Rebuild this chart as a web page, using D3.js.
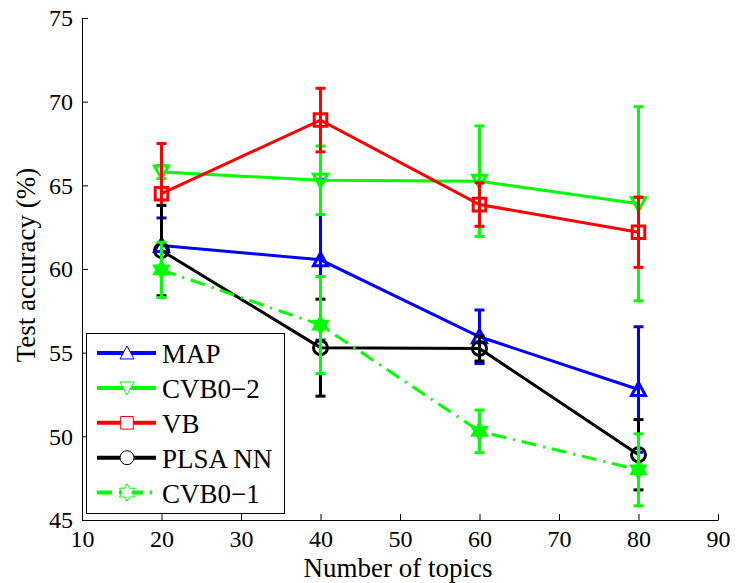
<!DOCTYPE html>
<html>
<head>
<meta charset="utf-8">
<script src="https://cdn.jsdelivr.net/npm/d3@7"></script>
<style>
  body { margin: 0; background: #fff; }
  svg text { font-family: "Liberation Serif", "Times New Roman", serif; fill: #000; }
</style>
</head>
<body>
<div id="chart"></div>
<script>
const topics = [20, 40, 60, 80];
const xTicks = [10, 20, 30, 40, 50, 60, 70, 80, 90];
const yTicks = [45, 50, 55, 60, 65, 70, 75];

const seriesNames = ["MAP", "CVB0\u22122", "VB", "PLSA NN", "CVB0\u22121"];

const mapAcc = [61.4, 60.55, 55.95, 52.8];
const mapErr = [1.65, 4.8, 1.6, 3.75];
const cvb02Acc = [65.8, 65.3, 65.25, 63.9];
const cvb02Err = [0.4, 2.05, 3.3, 5.8];
const vbAcc = [64.5, 68.9, 63.85, 62.2];
const vbErr = [3.0, 1.9, 1.3, 2.1];
const plsaAcc = [61.1, 55.3, 55.25, 48.9];
const plsaErr = [2.7, 2.9, 0.75, 2.1];
const cvb01Acc = [59.95, 56.65, 50.3, 48.0];
const cvb01Err = [1.65, 2.9, 1.27, 2.15];

const width = 736;
const height = 583;
const margin = { top: 18, right: 18, bottom: 63, left: 82 };
const serif = "'Liberation Serif', 'Times New Roman', serif";

// marker outlines, centred on 0,0
function starPath(R) {
    const r = R / Math.sqrt(3);
    let p = "";
    for (let i = 0; i < 12; i++) {
        const a = -Math.PI / 2 + i * Math.PI / 6;
        const rr = i % 2 === 0 ? R : r;
        p += (i === 0 ? "M" : "L") + (rr * Math.cos(a)).toFixed(2) + "," + (rr * Math.sin(a)).toFixed(2);
    }
    return p + "Z";
}
const markers = {
    up: s => `M0,${-s}L${s},${s * 0.85}L${-s},${s * 0.85}Z`,
    down: s => `M0,${s}L${s},${-s * 0.85}L${-s},${-s * 0.85}Z`,
    square: s => `M${-s * 0.9},${-s * 0.9}H${s * 0.9}V${s * 0.9}H${-s * 0.9}Z`,
    circle: s => `M${s},0A${s},${s} 0 1,1 ${-s},0A${s},${s} 0 1,1 ${s},0Z`,
    star: s => starPath(s * 1.25)
};

const series = [
    { name: seriesNames[0], acc: mapAcc, err: mapErr, color: "#0000ff", marker: "up", dash: null },
    { name: seriesNames[1], acc: cvb02Acc, err: cvb02Err, color: "#00ff00", marker: "down", dash: null },
    { name: seriesNames[2], acc: vbAcc, err: vbErr, color: "#ff0000", marker: "square", dash: null },
    { name: seriesNames[3], acc: plsaAcc, err: plsaErr, color: "#000000", marker: "circle", dash: null },
    { name: seriesNames[4], acc: cvb01Acc, err: cvb01Err, color: "#00ff00", marker: "star", dash: "15,7,2,7" }
];

const svg = d3.select("#chart")
    .append("svg")
    .attr("width", width)
    .attr("height", height);

svg.append("rect")
    .attr("width", width)
    .attr("height", height)
    .attr("fill", "#fff");

const xScale = d3.scaleLinear()
    .domain([10, 90])
    .range([margin.left, width - margin.right]);

const yScale = d3.scaleLinear()
    .domain([45, 75])
    .range([height - margin.bottom, margin.top]);

const xAxis = d3.axisBottom(xScale)
    .tickValues(xTicks)
    .tickSizeInner(-6)
    .tickSizeOuter(0)
    .tickPadding(10);

const yAxis = d3.axisLeft(yScale)
    .tickValues(yTicks)
    .tickSizeInner(-6)
    .tickSizeOuter(0)
    .tickPadding(9);

const gx = svg.append("g")
    .attr("transform", `translate(0, ${height - margin.bottom})`)
    .call(xAxis);

const gy = svg.append("g")
    .attr("transform", `translate(${margin.left}, 0)`)
    .call(yAxis);

[gx, gy].forEach(g => {
    g.attr("font-family", serif).attr("font-size", 24);
    g.selectAll("path, line").attr("stroke", "#000").attr("stroke-width", 1);
    g.selectAll("text")
        .attr("font-family", serif)
        .attr("font-size", 24)
        .attr("fill", "#000");
});

svg.append("text")
    .attr("x", 398)
    .attr("y", 577)
    .attr("text-anchor", "middle")
    .attr("font-family", serif)
    .attr("font-size", 27)
    .text("Number of topics");

svg.append("text")
    .attr("transform", "translate(35, 265) rotate(-90)")
    .attr("text-anchor", "middle")
    .attr("font-family", serif)
    .attr("font-size", 27)
    .text("Test accuracy (%)");

const line = d3.line()
    .x((d, i) => xScale(topics[i]))
    .y(d => yScale(d));

const capHalf = 5;

series.forEach(s => {
    const g = svg.append("g");

    g.append("path")
        .datum(s.acc)
        .attr("fill", "none")
        .attr("stroke", s.color)
        .attr("stroke-width", 3)
        .attr("stroke-dasharray", s.dash)
        .attr("d", line);

    const bars = g.selectAll(".bar")
        .data(s.acc.map((v, i) => ({ x: topics[i], v: v, e: s.err[i] })))
        .enter()
        .append("g");

    bars.append("line")
        .attr("x1", d => xScale(d.x))
        .attr("x2", d => xScale(d.x))
        .attr("y1", d => yScale(d.v - d.e))
        .attr("y2", d => yScale(d.v + d.e))
        .attr("stroke", s.color)
        .attr("stroke-width", 3);

    [-1, 1].forEach(sign => {
        bars.append("line")
            .attr("x1", d => xScale(d.x) - capHalf)
            .attr("x2", d => xScale(d.x) + capHalf)
            .attr("y1", d => yScale(d.v + sign * d.e))
            .attr("y2", d => yScale(d.v + sign * d.e))
            .attr("stroke", s.color)
            .attr("stroke-width", 3);
    });

    // the thick-edged hexagram reads as a solid star in the reference
    bars.append("path")
        .attr("transform", d => `translate(${xScale(d.x)}, ${yScale(d.v)})`)
        .attr("d", markers[s.marker](7))
        .attr("fill", s.marker === "star" ? s.color : "none")
        .attr("stroke", s.color)
        .attr("stroke-width", s.marker === "star" ? 2 : 3);
});

// legend
const legend = svg.append("g");

legend.append("rect")
    .attr("x", 86.5)
    .attr("y", 333.5)
    .attr("width", 198)
    .attr("height", 180)
    .attr("fill", "#fff")
    .attr("stroke", "#000")
    .attr("stroke-width", 1);

series.forEach((s, i) => {
    const cy = 353 + i * 34.9;

    legend.append("line")
        .attr("x1", 97)
        .attr("x2", 156)
        .attr("y1", cy)
        .attr("y2", cy)
        .attr("stroke", s.color)
        .attr("stroke-width", 4)
        .attr("stroke-dasharray", s.dash);

    legend.append("path")
        .attr("transform", `translate(127, ${cy})`)
        .attr("d", markers[s.marker](7))
        .attr("fill", "#fff")
        .attr("stroke", s.color)
        .attr("stroke-width", 1);

    legend.append("text")
        .attr("x", 162)
        .attr("y", cy + 10)
        .attr("font-family", serif)
        .attr("font-size", 27)
        .text(s.name);
});
</script>
</body>
</html>
